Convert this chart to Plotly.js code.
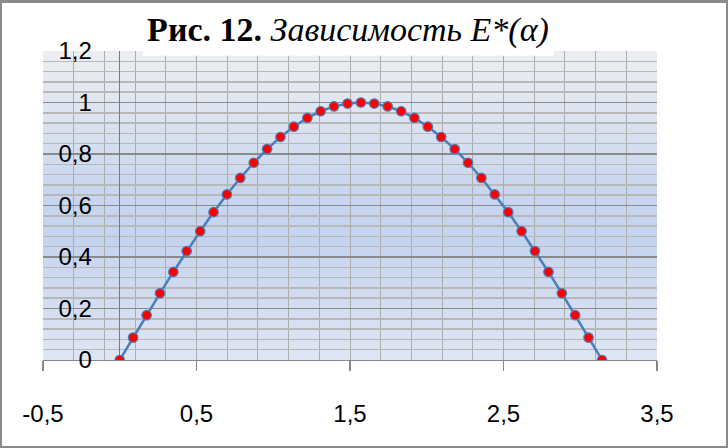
<!DOCTYPE html>
<html>
<head>
<meta charset="utf-8">
<script src="https://cdn.plot.ly/plotly-3.0.1.min.js"></script>
<style>
html,body{margin:0;padding:0;background:#fff;}
#wrap{position:relative;width:728px;height:448px;overflow:hidden;}
#bg{position:absolute;left:43px;top:51px;width:614px;height:309px;
 background:linear-gradient(to bottom,#eceef1 0%,#dce3f0 22%,#c8d6ee 45%,#c5d4ee 62%,#d3ddf1 82%,#dfe6f4 100%);}
#chart{position:absolute;left:0;top:0;width:728px;height:448px;}
#frame{position:absolute;left:0;top:0;width:728px;height:448px;box-sizing:border-box;
 border:2px solid #8a8a8a;border-top-width:3px;pointer-events:none;}
</style>
</head>
<body>
<div id="wrap">
  <div id="bg"></div>
  <div id="chart"></div>
  <div id="frame"></div>
</div>
<script>
// angle alpha (radians)
const alpha = [0, 0.087, 0.175, 0.262, 0.349, 0.436, 0.524, 0.611, 0.698, 0.785,
  0.873, 0.960, 1.047, 1.134, 1.222, 1.309, 1.396, 1.484, 1.571, 1.658,
  1.745, 1.833, 1.920, 2.007, 2.094, 2.182, 2.269, 2.356, 2.443, 2.531,
  2.618, 2.705, 2.793, 2.880, 2.967, 3.054, 3.142];
// E*(alpha)
const eStar = [0, 0.087, 0.174, 0.259, 0.342, 0.423, 0.500, 0.574, 0.643, 0.707,
  0.766, 0.819, 0.866, 0.906, 0.940, 0.966, 0.985, 0.996, 1.000, 0.996,
  0.985, 0.966, 0.940, 0.906, 0.866, 0.819, 0.766, 0.707, 0.643, 0.574,
  0.500, 0.423, 0.342, 0.259, 0.174, 0.087, 0.000];
const xTickVals = [-0.5, 0.5, 1.5, 2.5, 3.5];
const xTickText = ['-0,5', '0,5', '1,5', '2,5', '3,5'];
const yTickVals = [0, 0.2, 0.4, 0.6, 0.8, 1, 1.2];
const yTickText = ['0', '0,2', '0,4', '0,6', '0,8', '1', '1,2'];
const titleText = '<b>Рис. 12.</b> <i>Зависимость E*(α)</i>';

const trace = {
  x: alpha, y: eStar, type: 'scatter', mode: 'lines+markers',
  line: {color: '#4a7ebb', width: 2.5},
  marker: {color: '#ff0000', size: 9.5, line: {color: '#4a7ebb', width: 1.2}},
  hoverinfo: 'none'
};

const layout = {
  width: 728, height: 448,
  margin: {l: 43, r: 71, t: 51, b: 88, pad: 0},
  paper_bgcolor: 'rgba(0,0,0,0)', plot_bgcolor: 'rgba(0,0,0,0)',
  showlegend: false,
  font: {family: 'Liberation Sans, Arial, sans-serif', color: '#000'},
  title: {text: titleText, font: {family: 'Liberation Serif, serif', size: 34, color: '#000'},
    x: 0.478, xanchor: 'center', y: 0.935, yanchor: 'middle', xref: 'container', yref: 'container'},
  xaxis: {
    range: [-0.5, 3.5], tickmode: 'array', tickvals: xTickVals, ticktext: xTickText,
    showgrid: true, gridcolor: '#acacac', gridwidth: 1,
    minor: {tick0: -0.5, dtick: 0.2, showgrid: true, gridcolor: '#acacac', gridwidth: 1, ticks: ''},
    zeroline: true, zerolinecolor: '#7a7a7a', zerolinewidth: 1.3,
    showline: true, linecolor: '#868686', linewidth: 1.3,
    ticks: 'outside', ticklen: 10, tickcolor: '#868686', tickwidth: 1.3,
    ticklabelstandoff: 22,
    tickfont: {size: 24, color: '#000'}
  },
  yaxis: {
    range: [0, 1.2], tickmode: 'array', tickvals: yTickVals, ticktext: yTickText,
    showgrid: true, gridcolor: '#8a8a8a', gridwidth: 1.5,
    minor: {dtick: 0.04, tick0: 0, showgrid: true, gridcolor: '#b8b8b8', gridwidth: 1.5, ticks: ''},
    zeroline: false,
    anchor: 'free', position: 0.125,
    showline: false,
    ticks: '', ticklabelstandoff: 28,
    tickfont: {size: 24, color: '#000'}
  },
  shapes: [{
    type: 'rect', xref: 'paper', yref: 'paper', x0: 0.163, x1: 0.832, y0: 0.985, y1: 1.3,
    fillcolor: '#ffffff', line: {width: 0}, layer: 'above'
  }]
};

Plotly.newPlot('chart', [trace], layout, {staticPlot: true, displayModeBar: false});
</script>
</body>
</html>
